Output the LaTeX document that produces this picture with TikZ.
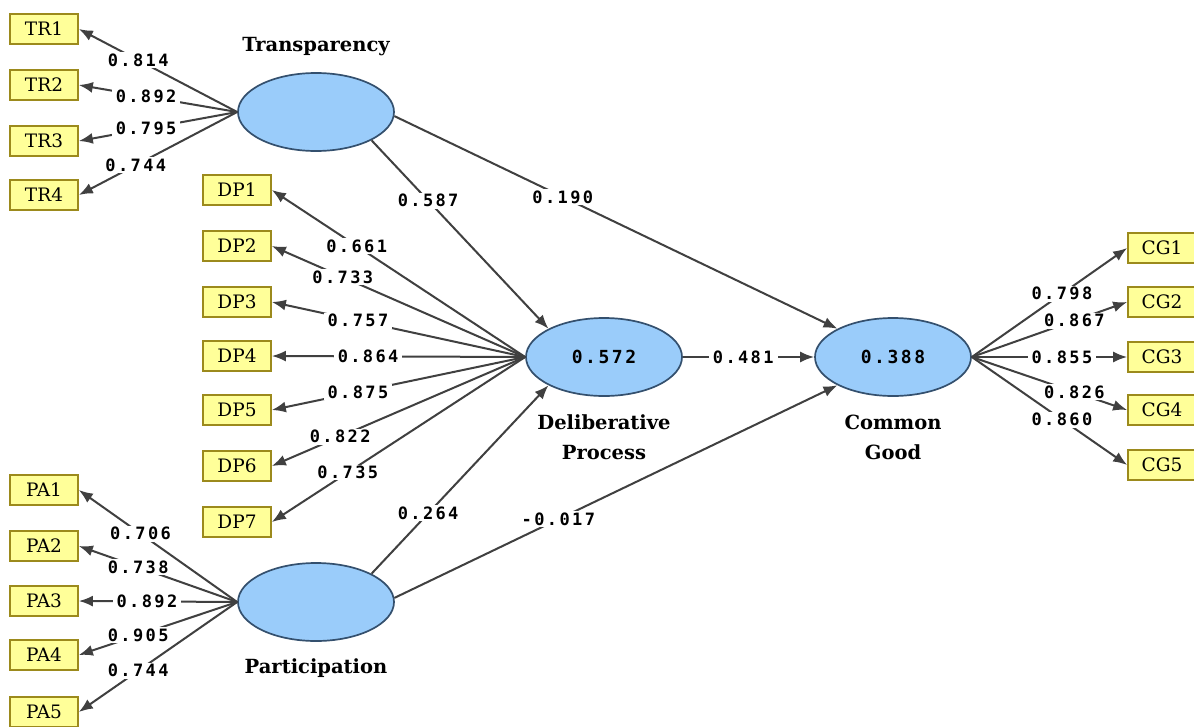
\documentclass[tikz,border=0pt]{standalone}
\usepackage{fontspec}
\setmainfont{DejaVu Serif}
\newfontfamily\numfont[LetterSpace=14]{DejaVu Sans Mono}
\usetikzlibrary{arrows.meta,shapes.geometric}
\definecolor{boxfill}{HTML}{FFFF99}
\definecolor{boxborder}{HTML}{9C8A1C}
\definecolor{ellfill}{HTML}{9ACCFA}
\definecolor{ellborder}{HTML}{34506E}
\definecolor{arrcol}{HTML}{404040}
\begin{document}
\begin{tikzpicture}[x=1pt,y=-1pt,
 ind/.style={draw=boxborder, fill=boxfill, line width=1.7pt, minimum width=68pt, minimum height=30pt, inner sep=0pt, font=\fontsize{18.5}{18.5}\selectfont},
 lat/.style={ellipse, draw=ellborder, fill=ellfill, line width=1.7pt, minimum width=156pt, minimum height=78pt, inner sep=0pt, font=\numfont\bfseries\fontsize{18}{18}\selectfont},
 lab/.style={font=\bfseries\fontsize{19.5}{30}\selectfont, align=center},
 arr/.style={draw=arrcol, line width=2pt, -{Latex[length=14pt,width=11pt]}},
 coef/.style={fill=white, inner xsep=4pt, inner ysep=1.5pt, font=\numfont\bfseries\fontsize{17}{17}\selectfont, text=black}]
\useasboundingbox (0,0) rectangle (1194,726);
\fill[white] (0,0) rectangle (1194,726);
% latent variables
\node[lat] (tr) at (316,112) {};
\node[lat] (dp) at (604,357) {0.572};
\node[lat] (cg) at (893,357) {0.388};
\node[lat] (pa) at (316,602) {};
\node[lab] (trl) at (316,47) {Transparency};
\node[lab] (dpl) at (604,437) {Deliberative\\Process};
\node[lab] (cgl) at (893,437) {Common\\Good};
\node[lab] (pal) at (316,668) {Participation};
% indicators
\node[ind] (TR1) at (44,29) {TR1};
\node[ind] (TR2) at (44,85) {TR2};
\node[ind] (TR3) at (44,141) {TR3};
\node[ind] (TR4) at (44,195) {TR4};
\node[ind] (DP1) at (237,190) {DP1};
\node[ind] (DP2) at (237,246) {DP2};
\node[ind] (DP3) at (237,302) {DP3};
\node[ind] (DP4) at (237,356) {DP4};
\node[ind] (DP5) at (237,410) {DP5};
\node[ind] (DP6) at (237,466) {DP6};
\node[ind] (DP7) at (237,522) {DP7};
\node[ind] (CG1) at (1162,248) {CG1};
\node[ind] (CG2) at (1162,302) {CG2};
\node[ind] (CG3) at (1162,357) {CG3};
\node[ind] (CG4) at (1162,410) {CG4};
\node[ind] (CG5) at (1162,465) {CG5};
\node[ind] (PA1) at (44,490) {PA1};
\node[ind] (PA2) at (44,546) {PA2};
\node[ind] (PA3) at (44,601) {PA3};
\node[ind] (PA4) at (44,655) {PA4};
\node[ind] (PA5) at (44,712) {PA5};
% outer loadings
\draw[arr] (tr.west) -- node[coef,pos=0.625]{0.814} (TR1.east);
\draw[arr] (tr.west) -- node[coef,pos=0.575]{0.892} (TR2.east);
\draw[arr] (tr.west) -- node[coef,pos=0.575]{0.795} (TR3.east);
\draw[arr] (tr.west) -- node[coef,pos=0.64]{0.744} (TR4.east);
\draw[arr] (dp.west) -- node[coef,pos=0.665]{0.661} (DP1.east);
\draw[arr] (dp.west) -- node[coef,pos=0.72]{0.733} (DP2.east);
\draw[arr] (dp.west) -- node[coef,pos=0.66]{0.757} (DP3.east);
\draw[arr] (dp.west) -- node[coef,pos=0.62]{0.864} (DP4.east);
\draw[arr] (dp.west) -- node[coef,pos=0.66]{0.875} (DP5.east);
\draw[arr] (dp.west) -- node[coef,pos=0.73]{0.822} (DP6.east);
\draw[arr] (dp.west) -- node[coef,pos=0.70]{0.735} (DP7.east);
\draw[arr] (pa.west) -- node[coef,pos=0.61]{0.706} (PA1.east);
\draw[arr] (pa.west) -- node[coef,pos=0.625]{0.738} (PA2.east);
\draw[arr] (pa.west) -- node[coef,pos=0.57]{0.892} (PA3.east);
\draw[arr] (pa.west) -- node[coef,pos=0.625]{0.905} (PA4.east);
\draw[arr] (pa.west) -- node[coef,pos=0.625]{0.744} (PA5.east);
\draw[arr] (cg.east) -- node[coef,pos=0.58]{0.798} (CG1.west);
\draw[arr] (cg.east) -- node[coef,pos=0.66]{0.867} (CG2.west);
\draw[arr] (cg.east) -- node[coef,pos=0.58]{0.855} (CG3.west);
\draw[arr] (cg.east) -- node[coef,pos=0.66]{0.826} (CG4.west);
\draw[arr] (cg.east) -- node[coef,pos=0.58]{0.860} (CG5.west);
% structural paths
\draw[arr] (tr.-27) -- node[coef,pos=0.32]{0.587} (dp.153);
\draw[arr] (tr.-3) -- node[coef,pos=0.38]{0.190} (cg.153);
\draw[arr] (dp.east) -- node[coef,pos=0.46]{0.481} (cg.west);
\draw[arr] (pa.27) -- node[coef,pos=0.32]{0.264} (dp.207);
\draw[arr] (pa.3) -- node[coef,pos=0.37]{-0.017} (cg.207);
\end{tikzpicture}
\end{document}
